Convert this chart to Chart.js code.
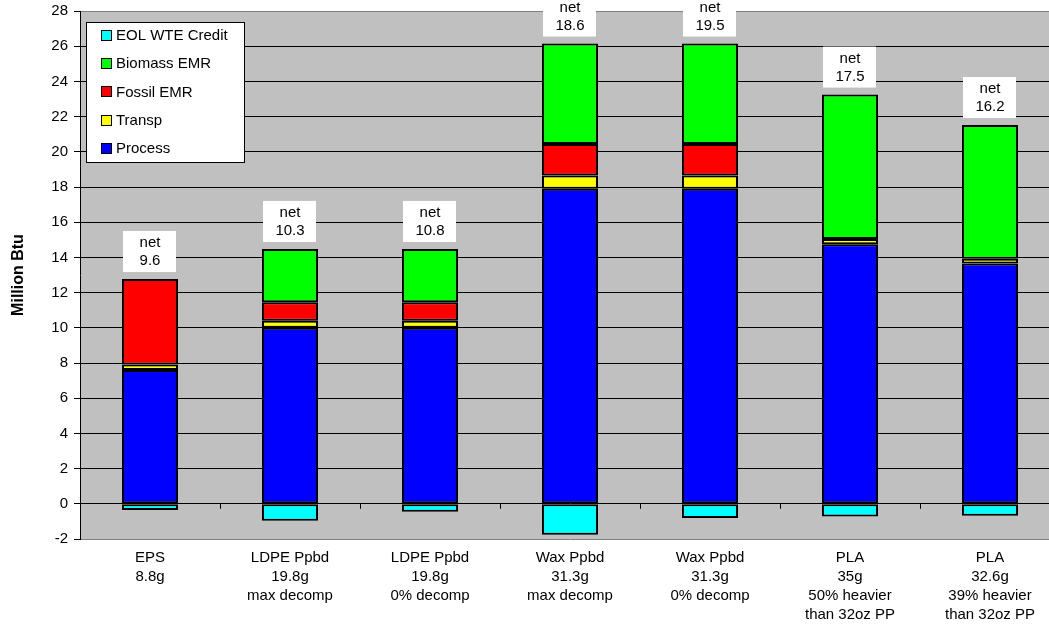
<!DOCTYPE html>
<html>
<head>
<meta charset="utf-8">
<script src="https://cdn.jsdelivr.net/npm/chart.js@4/dist/chart.umd.min.js"></script>
<style>
  html, body { margin: 0; padding: 0; background: #fff; overflow: hidden; }
  #wrap { width: 1062px; height: 625px; }
</style>
</head>
<body>
<div id="wrap"><canvas id="chart" width="1062" height="625"></canvas></div>
<script>
const categories = [
  ["EPS", "8.8g"],
  ["LDPE Ppbd", "19.8g", "max decomp"],
  ["LDPE Ppbd", "19.8g", "0% decomp"],
  ["Wax Ppbd", "31.3g", "max decomp"],
  ["Wax Ppbd", "31.3g", "0% decomp"],
  ["PLA", "35g", "50% heavier", "than 32oz PP"],
  ["PLA", "32.6g", "39% heavier", "than 32oz PP"],
];
const process = [7.6, 10.0, 10.0, 17.9, 17.9, 14.75, 13.65];
const transp = [0.32, 0.4, 0.4, 0.75, 0.75, 0.3, 0.27];
const fossilEMR = [4.85, 1.05, 1.05, 1.8, 1.8, 0, 0];
const biomassEMR = [0, 3.03, 3.03, 5.7, 5.7, 8.2, 7.6];
const eolCredit = [-0.35, -0.97, -0.45, -1.76, -0.8, -0.72, -0.68];
const netValues = ["9.6", "10.3", "10.8", "18.6", "19.5", "17.5", "16.2"];
const yTicks = { min: -2, max: 28, step: 2 };

const FONT = "'Liberation Sans', Arial, sans-serif";

// zero segments are left out so they do not draw a border line
const nz = (arr) => arr.map((v) => (v === 0 ? null : v));

function makeSet(label, data, color) {
  return {
    label: label,
    data: nz(data),
    backgroundColor: color,
    borderColor: "#000",
    borderWidth: 2,
    borderSkipped: false,
    barPercentage: 0.4,
    categoryPercentage: 1,
  };
}

// grey plot area
const plotBackground = {
  id: "plotBackground",
  beforeDraw(chart) {
    const { ctx, chartArea: a } = chart;
    ctx.save();
    ctx.fillStyle = "#c0c0c0";
    ctx.fillRect(a.left, a.top, a.right - a.left, a.bottom - a.top);
    ctx.restore();
  },
};

// small category ticks on the zero line + "net" boxes
const netLabels = {
  id: "netLabels",
  afterDatasetsDraw(chart) {
    const { ctx, scales } = chart;
    const x = scales.x, y = scales.y;
    const y0 = y.getPixelForValue(0);
    ctx.save();
    ctx.strokeStyle = "#000";
    ctx.lineWidth = 1;
    for (let i = 1; i < categories.length; i++) {
      const bx = Math.round((x.getPixelForValue(i - 1) + x.getPixelForValue(i)) / 2) + 0.5;
      ctx.beginPath();
      ctx.moveTo(bx, y0);
      ctx.lineTo(bx, y0 + 5);
      ctx.stroke();
    }

    ctx.font = "15px " + FONT;
    ctx.textAlign = "center";
    ctx.textBaseline = "middle";
    netValues.forEach((net, i) => {
      const top = process[i] + transp[i] + fossilEMR[i] + biomassEMR[i];
      const cx = x.getPixelForValue(i);
      const by = y.getPixelForValue(top) - 7;
      ctx.fillStyle = "#fff";
      ctx.fillRect(cx - 27, by - 41, 53, 41);
      ctx.fillStyle = "#000";
      ctx.fillText("net", cx, by - 29);
      ctx.fillText(net, cx, by - 11);
    });
    ctx.restore();
  },
};

// boxed legend inside the plot, top-left
const boxLegend = {
  id: "boxLegend",
  afterDraw(chart) {
    const { ctx, chartArea: a } = chart;
    const sets = chart.data.datasets.slice().reverse();
    const left = a.left + 6, top = a.top + 11;
    ctx.save();
    ctx.fillStyle = "#fff";
    ctx.fillRect(left, top, 158, 140);
    ctx.strokeStyle = "#000";
    ctx.lineWidth = 1;
    ctx.strokeRect(left + 0.5, top + 0.5, 158, 140);
    ctx.font = "15px " + FONT;
    ctx.textBaseline = "middle";
    ctx.textAlign = "left";
    sets.forEach((ds, i) => {
      const cy = top + 13 + i * 28.2;
      ctx.fillStyle = ds.backgroundColor;
      ctx.fillRect(left + 15, Math.round(cy - 5), 10, 10);
      ctx.strokeRect(left + 15.5, Math.round(cy - 5) + 0.5, 10, 10);
      ctx.fillStyle = "#000";
      ctx.fillText(ds.label, left + 30, cy + 1);
    });
    ctx.restore();
  },
};

new Chart(document.getElementById("chart").getContext("2d"), {
  type: "bar",
  data: {
    labels: categories,
    datasets: [
      makeSet("Process", process, "#0000ff"),
      makeSet("Transp", transp, "#ffff00"),
      makeSet("Fossil EMR", fossilEMR, "#ff0000"),
      makeSet("Biomass EMR", biomassEMR, "#00ff00"),
      makeSet("EOL WTE Credit", eolCredit, "#00ffff"),
    ],
  },
  options: {
    responsive: false,
    animation: false,
    layout: { autoPadding: false, padding: { top: 11, right: 2, bottom: 0, left: 0 } },
    plugins: {
      legend: { display: false },
      tooltip: { enabled: false },
    },
    scales: {
      x: {
        stacked: true,
        grid: { display: false },
        border: { display: false },
        ticks: {
          color: "#000",
          font: { family: FONT, size: 15, lineHeight: 1.27 },
          padding: 1,
          maxRotation: 0,
          autoSkip: false,
        },
        afterFit(scale) { scale.height = 86; },
      },
      y: {
        stacked: true,
        min: yTicks.min,
        max: yTicks.max,
        border: { display: true, color: "#000", width: 1 },
        grid: {
          color: (c) => (c.tick && (c.tick.value === yTicks.max || c.tick.value === yTicks.min) ? "#808080" : "#000"),
          lineWidth: 1,
          tickLength: 6,
          tickColor: "#000",
        },
        ticks: {
          stepSize: yTicks.step,
          color: "#000",
          font: { family: FONT, size: 15 },
          padding: 6,
        },
        title: {
          display: true,
          text: "Million Btu",
          color: "#000",
          font: { family: FONT, size: 16, weight: "bold" },
          padding: { top: 9, bottom: 0 },
        },
        afterFit(scale) {
          scale.width = 80;
          scale.paddingTop = 0;
          scale.paddingBottom = 0;
        },
      },
    },
  },
  plugins: [plotBackground, netLabels, boxLegend],
});
</script>
</body>
</html>
